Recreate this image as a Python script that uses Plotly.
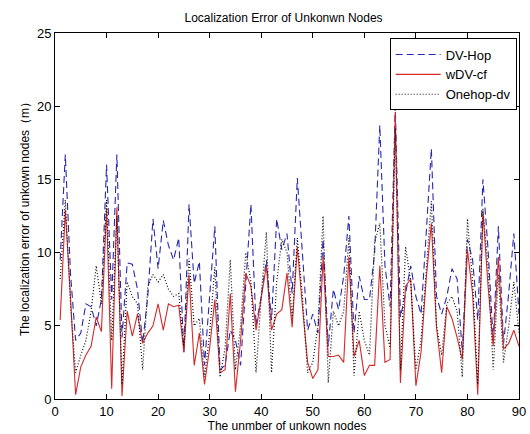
import plotly.graph_objects as go

nodes = list(range(1, 91))

dv_hop = [9.5, 16.7, 8.6, 4.0, 4.5, 6.5, 6.3, 5.0, 6.8, 16.0,
          6.8, 16.7, 4.2, 9.3, 9.2, 7.5, 3.8, 7.0, 12.3, 8.9,
          12.2, 10.5, 9.5, 11.0, 3.2, 13.3, 7.9, 9.4, 2.3, 7.3,
          11.8, 2.0, 2.3, 4.7, 4.0, 2.3, 8.0, 13.3, 5.0, 7.0,
          9.5, 5.4, 12.3, 10.2, 11.3, 7.2, 15.1, 10.2, 4.7, 5.8,
          4.5, 10.9, 3.6, 7.5, 6.1, 8.4, 12.5, 4.5, 8.4, 6.8,
          6.8, 10.0, 18.7, 9.1, 6.3, 20.0, 5.6, 7.2, 9.1, 7.0,
          5.8, 11.3, 17.1, 7.0, 5.8, 7.0, 8.9, 8.2, 3.2, 10.9,
          9.5, 5.4, 15.0, 10.2, 4.0, 11.8, 3.8, 7.2, 11.3, 5.8]

wdv_cf = [5.4, 12.9, 7.0, 0.3, 2.2, 3.0, 3.6, 5.6, 4.6, 13.0,
          0.7, 13.1, 0.2, 6.0, 4.3, 5.8, 3.8, 4.5, 5.0, 6.5,
          4.7, 6.5, 6.3, 6.4, 3.2, 8.5, 2.3, 4.5, 1.0, 3.5,
          6.8, 1.8, 2.0, 7.2, 0.5, 4.0, 8.6, 7.7, 4.7, 6.8,
          9.1, 4.7, 5.8, 6.1, 8.6, 4.9, 10.4, 6.3, 2.5, 1.4,
          2.0, 9.7, 2.9, 2.9, 3.0, 2.5, 9.7, 2.9, 4.0, 1.6,
          2.3, 2.3, 9.1, 2.5, 2.7, 19.6, 1.1, 7.7, 8.2, 0.9,
          3.2, 8.2, 12.0, 4.9, 1.8, 6.3, 5.5, 4.2, 2.7, 10.2,
          7.2, 0.3, 12.8, 7.7, 3.6, 9.7, 3.4, 3.8, 4.7, 3.6]

onehop_dv = [8.2, 13.6, 6.5, 1.8, 3.0, 4.0, 6.0, 9.1, 6.5, 13.6,
             4.0, 12.5, 1.0, 8.0, 7.0, 6.5, 2.0, 7.7, 8.5, 8.0,
             8.5, 7.5, 7.0, 7.2, 3.5, 9.6, 5.0, 5.5, 1.5, 4.5,
             9.0, 1.5, 3.5, 9.5, 2.0, 5.0, 10.0, 8.0, 1.8, 7.0,
             11.4, 1.8, 8.0, 10.9, 10.0, 5.5, 11.0, 7.0, 1.8, 2.5,
             5.0, 12.5, 1.1, 6.0, 5.0, 6.0, 11.0, 1.6, 6.0, 4.0,
             3.0, 10.7, 12.0, 5.0, 3.5, 18.5, 2.0, 10.4, 8.0, 2.0,
             4.0, 9.0, 13.5, 5.0, 3.0, 6.5, 7.0, 6.0, 1.5, 12.3,
             8.0, 1.0, 13.0, 9.0, 2.0, 8.5, 2.5, 5.0, 8.0, 4.5]

x_ticks = [0, 10, 20, 30, 40, 50, 60, 70, 80, 90]
y_ticks = [0, 5, 10, 15, 20, 25]

font_family = "Liberation Sans, Arial, sans-serif"

fig = go.Figure()
fig.add_trace(go.Scatter(x=nodes, y=dv_hop, mode="lines", name="DV-Hop",
                         line=dict(color="#2828b0", width=1.1, dash="7px,4px")))
fig.add_trace(go.Scatter(x=nodes, y=wdv_cf, mode="lines", name="wDV-cf",
                         line=dict(color="#d42a2a", width=1.1)))
fig.add_trace(go.Scatter(x=nodes, y=onehop_dv, mode="lines", name="Onehop-dv",
                         line=dict(color="#111111", width=1.2, dash="1px,2px")))

axis_common = dict(showgrid=False, zeroline=False, showline=True, linecolor="black",
                   linewidth=1, mirror="ticks", ticks="inside", ticklen=5,
                   tickcolor="black", automargin=False,
                   tickfont=dict(size=13, color="black", family=font_family))

fig.update_layout(
    width=530, height=434,
    margin=dict(l=55, r=11, t=33, b=35, autoexpand=False),
    paper_bgcolor="white", plot_bgcolor="white",
    title=dict(text="Localization Error of Unkonwn Nodes", x=0.535, xanchor="center",
               y=0.96, yanchor="middle",
               font=dict(size=12, color="black", family=font_family)),
    xaxis=dict(range=[0, 90], tickvals=x_ticks,
               title=dict(text="The unmber of unkown nodes", standoff=2,
                          font=dict(size=12, color="black", family=font_family)),
               **axis_common),
    yaxis=dict(range=[0, 25], tickvals=y_ticks,
               title=dict(text="The localization error of unkown nodes（m）", standoff=4,
                          font=dict(size=12, color="black", family=font_family)),
               **axis_common),
    legend=dict(x=0.995, y=0.985, xanchor="right", yanchor="top",
                bgcolor="white", bordercolor="black", borderwidth=1,
                font=dict(size=13, color="black", family=font_family),
                tracegroupgap=0, itemwidth=45),
    showlegend=True,
)

fig.write_html(
    "out.html",
    config={"displayModeBar": False, "staticPlot": True},
    post_script="document.body.style.margin='0';document.body.style.overflow='hidden';",
)
